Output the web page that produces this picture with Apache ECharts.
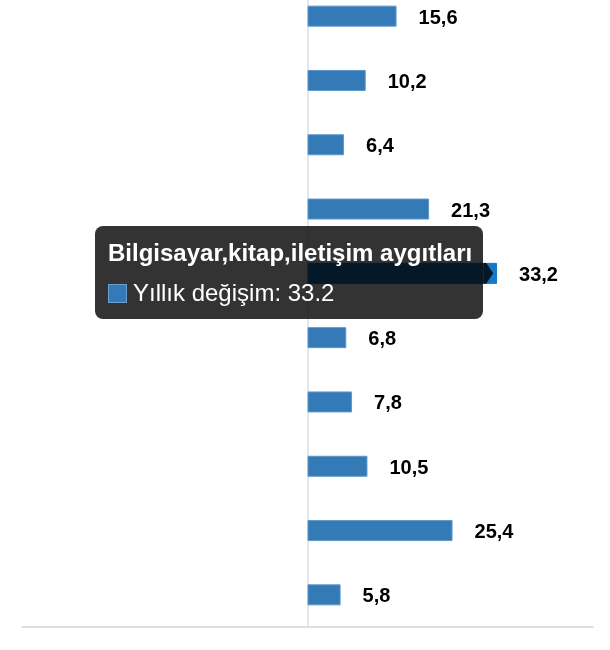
<!DOCTYPE html>
<html>
<head>
<meta charset="utf-8">
<script src="https://cdn.jsdelivr.net/npm/echarts@6/dist/echarts.min.js"></script>
<style>
  html, body { margin: 0; padding: 0; background: #fff; }
  #chart { width: 610px; height: 650px; }
</style>
</head>
<body>
<div id="chart"></div>
<script>
// only the highlighted category name is readable in the picture
const categories = [
  'Kategori 1',
  'Kategori 2',
  'Kategori 3',
  'Kategori 4',
  'Bilgisayar,kitap,iletişim aygıtları',
  'Kategori 6',
  'Kategori 7',
  'Kategori 8',
  'Kategori 9',
  'Kategori 10'
]
const values = [15.6, 10.2, 6.4, 21.3, 33.2, 6.8, 7.8, 10.5, 25.4, 5.8]
const seriesName = 'Yıllık değişim'
const activeIndex = 4

const FONT = '"Liberation Sans", Arial, sans-serif'
const TIP_POS = [95, 226]
const BAR_W = 21

const chart = echarts.init(document.getElementById('chart'))

function tooltipHtml(p) {
  const yc = chart.convertToPixel({ yAxisIndex: 0 }, p.name)
  const arrowTop = yc - BAR_W / 2 - TIP_POS[1]
  return (
    '<div style="font-weight:bold;font-size:24px;line-height:29px">' + p.name + '</div>' +
    '<div style="margin-top:11px;font-size:24px;line-height:29px">' +
    '<span style="display:inline-block;box-sizing:border-box;width:19px;height:19px;background:#337ab7;' +
    'border:1px solid #6a9fd0;vertical-align:-2px;margin-right:6px"></span>' +
    p.seriesName + ': ' + p.value + '</div>' +
    '<span style="position:absolute;left:100%;top:' + arrowTop + 'px;width:10px;height:' + BAR_W + 'px;' +
    'background:rgba(0,0,0,0.8);clip-path:polygon(0 0,3px 0,10px 50%,3px 100%,0 100%)"></span>'
  )
}

chart.setOption({
  animation: false,
  textStyle: { fontFamily: FONT },
  grid: { left: 22, right: 17, top: -16, bottom: 23, outerBoundsMode: 'none', containLabel: false },
  tooltip: {
    trigger: 'item',
    alwaysShowContent: true,
    transitionDuration: 0,
    position: () => TIP_POS,
    backgroundColor: 'rgba(0,0,0,0.8)',
    borderWidth: 0,
    padding: [12, 11, 12, 13],
    textStyle: { color: '#fff', fontFamily: FONT, fontSize: 24 },
    extraCssText: 'border-radius:8px;box-shadow:none;',
    formatter: tooltipHtml
  },
  xAxis: {
    type: 'value',
    min: -50,
    max: 50,
    axisLine: { show: true, lineStyle: { color: '#e0e0e0', width: 2 } },
    axisTick: { show: false },
    axisLabel: { show: false },
    splitLine: { show: false }
  },
  yAxis: {
    type: 'category',
    inverse: true,
    data: categories,
    axisLine: { show: true, lineStyle: { color: '#e3e8ef', width: 2 } },
    axisTick: { show: false },
    axisLabel: { show: false }
  },
  series: [
    {
      name: seriesName,
      type: 'bar',
      barWidth: BAR_W,
      data: values,
      itemStyle: { color: '#337ab7', borderColor: '#5f98cd', borderWidth: 1 },
      emphasis: {
        focus: 'none',
        itemStyle: { color: '#1478c8', borderColor: '#1478c8' }
      },
      label: {
        show: true,
        position: 'right',
        distance: 22,
        offset: [0, 2],
        color: '#000',
        fontFamily: FONT,
        fontWeight: 'bold',
        fontSize: 20,
        formatter: (p) => String(p.value).replace('.', ',')
      }
    }
  ]
})

chart.dispatchAction({ type: 'highlight', seriesIndex: 0, dataIndex: activeIndex })
chart.dispatchAction({ type: 'showTip', seriesIndex: 0, dataIndex: activeIndex })
</script>
</body>
</html>
